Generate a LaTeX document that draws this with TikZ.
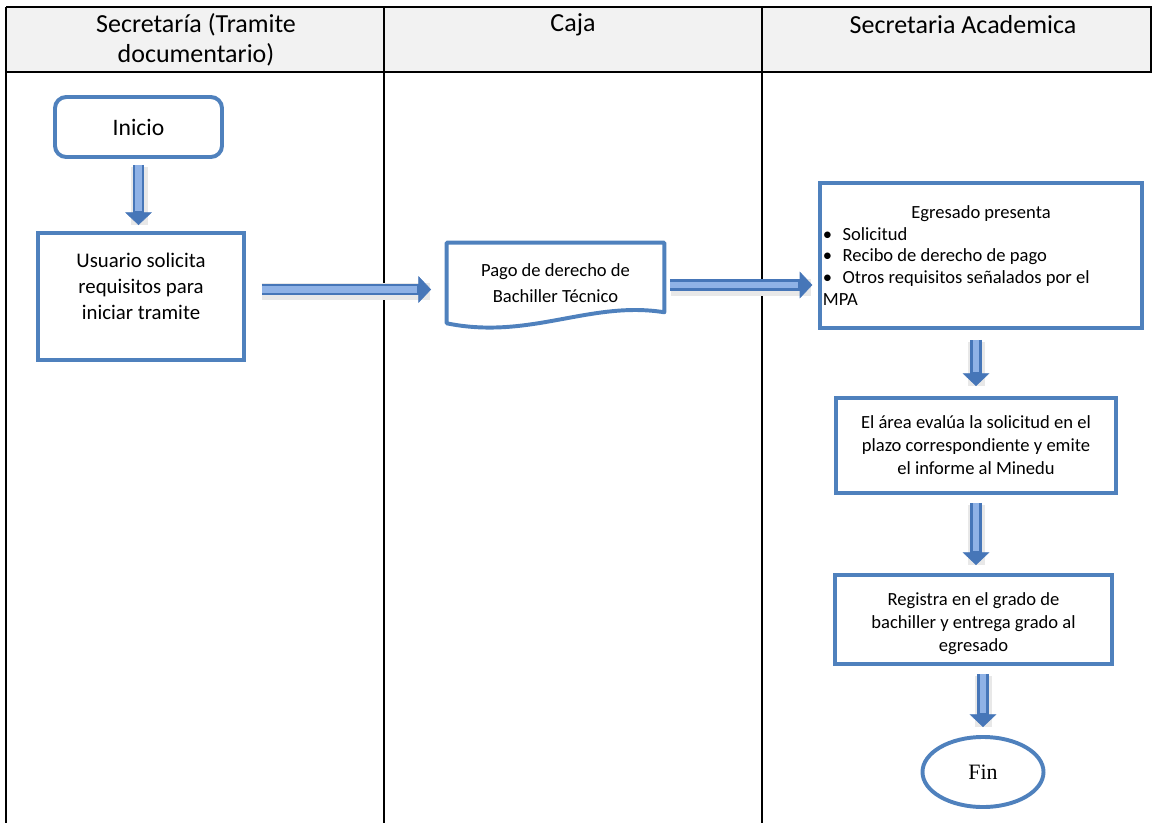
\documentclass[tikz,border=0pt]{standalone}
\usepackage{fontspec}
\setmainfont{Carlito}
\newfontfamily\serifa{Liberation Serif}
\usepackage{tikz}
\usetikzlibrary{arrows.meta,calc,positioning,shapes.geometric}

\definecolor{azulborde}{HTML}{4F81BD}
\definecolor{azulflecha}{HTML}{4676B8}
\definecolor{azulclaro}{HTML}{8FB2E6}
\definecolor{grisencab}{HTML}{F2F2F2}

\tikzset{
  tabla/.style={draw=black, line width=1.5pt},
  encab/.style={font=\fontsize{18.5}{21.5}\selectfont, align=center, inner sep=0pt},
  caja/.style={draw=azulborde, line width=2.8pt, fill=white, align=center,
    font=\fontsize{13.2}{16.3}\selectfont, inner sep=2pt},
  flecha/.style={draw=azulflecha, line width=8.5pt,
    -{Triangle[length=9pt,width=19pt,line width=0.4pt]},
    shorten <=#1, shorten >=#1,
    preaction={draw=black!9, line width=12pt, -, shorten >=#1+0.05cm,
      transform canvas={shift={(0.6pt,-1.6pt)}}},
    postaction={draw=azulclaro, line width=4.5pt, -, shorten >=#1+0.36cm}},
  flecha/.default=0.15cm
}

\begin{document}
\begin{tikzpicture}[x=0.025cm,y=-0.025cm]
  \useasboundingbox (0,0) rectangle (1153,823);

  % cabecera de la tabla
  \fill[grisencab] (6,7) rectangle (1151,72);
  \draw[tabla] (6,7) -- (1151,7) -- (1151,72) -- (6,72);
  \draw[tabla] (6,7) -- (6,823);
  \draw[tabla] (384,7) -- (384,823);
  \draw[tabla] (762,7) -- (762,823);
  \node[encab] (col1) at (196,40) {Secretaría (Tramite\\documentario)};
  \node[encab] (col2) at (573,25) {Caja};
  \node[encab] (col3) at (963,25) {Secretaria Academica};

  % Secretaria (tramite)
  \node[caja, rounded corners=8pt, minimum width=4.175cm, minimum height=1.5cm,
        font=\fontsize{16.8}{20}\selectfont] (inicio) at (138.5,127) {Inicio};
  \node[caja, minimum width=5.15cm, minimum height=3.175cm] (usuario) at (141,296.5) {};
  \node[align=center, font=\fontsize{14.8}{18.4}\selectfont] (usuariotxt) at (141,286.5)
        {Usuario solicita\\requisitos para\\iniciar tramite};

  % Caja
  \node[align=center, minimum width=5.425cm, minimum height=2cm, inner sep=0pt,
        font=\fontsize{13.2}{18.4}\selectfont] (pago) at (555.5,283)
        {Pago de derecho de\\Bachiller Técnico};
  \draw[draw=azulborde, line width=2.8pt, line join=round]
    (pago.south west) |- (pago.north east) -- ($(pago.south east)+(0,-11)$)
    .. controls +(-74,-12) and +(83,17) .. (pago.south west) -- cycle;

  % Secretaria Academica
  \node[caja, minimum width=8.05cm, minimum height=3.625cm, text width=7.9cm,
        align=flush left, inner xsep=2pt, font=\fontsize{13.2}{15.6}\selectfont]
        (egresado) at (981,255.5)
        {\centerline{Egresado presenta}
         \makebox[14pt][l]{\textbullet}Solicitud\\
         \makebox[14pt][l]{\textbullet}Recibo de derecho de pago\\
         \makebox[14pt][l]{\textbullet}Otros requisitos señalados por el\\
         MPA};
  \node[caja, minimum width=7cm, minimum height=2.375cm] (area) at (976,445.5)
        {El área evalúa la solicitud en el\\plazo correspondiente y emite\\el informe al Minedu};
  \node[caja, minimum width=6.925cm, minimum height=2.225cm] (registra) at (973.5,619.5) {};
  \node[align=center, font=\fontsize{13.2}{16.3}\selectfont] (registratxt) at (973.5,623.5)
        {Registra en el grado de\\bachiller y entrega grado al\\egresado};
  \node[ellipse, draw=azulborde, line width=2.8pt, minimum width=3.025cm,
        minimum height=1.75cm, font=\serifa\fontsize{15.6}{18}\selectfont]
        (fin) at (983,772) {Fin};

  % flechas
  \draw[flecha] (inicio.south) -- (inicio.south |- usuario.north);
  \coordinate (f1) at ($(usuario.east)+(0,-7)$);
  \draw[flecha=0.39cm] (f1) -- (f1 -| pago.west);
  \coordinate (f2) at ($(pago.east)+(0,2)$);
  \draw[flecha=0.14cm] (f2) -- (f2 -| egresado.west);
  \draw[flecha=0.25cm] (area.north |- egresado.south) -- (area.north);
  \draw[flecha=0.2cm] (area.south) -- (area.south |- registra.north);
  \draw[flecha=0.2cm] (fin.north |- registra.south) -- (fin.north);
\end{tikzpicture}
\end{document}
